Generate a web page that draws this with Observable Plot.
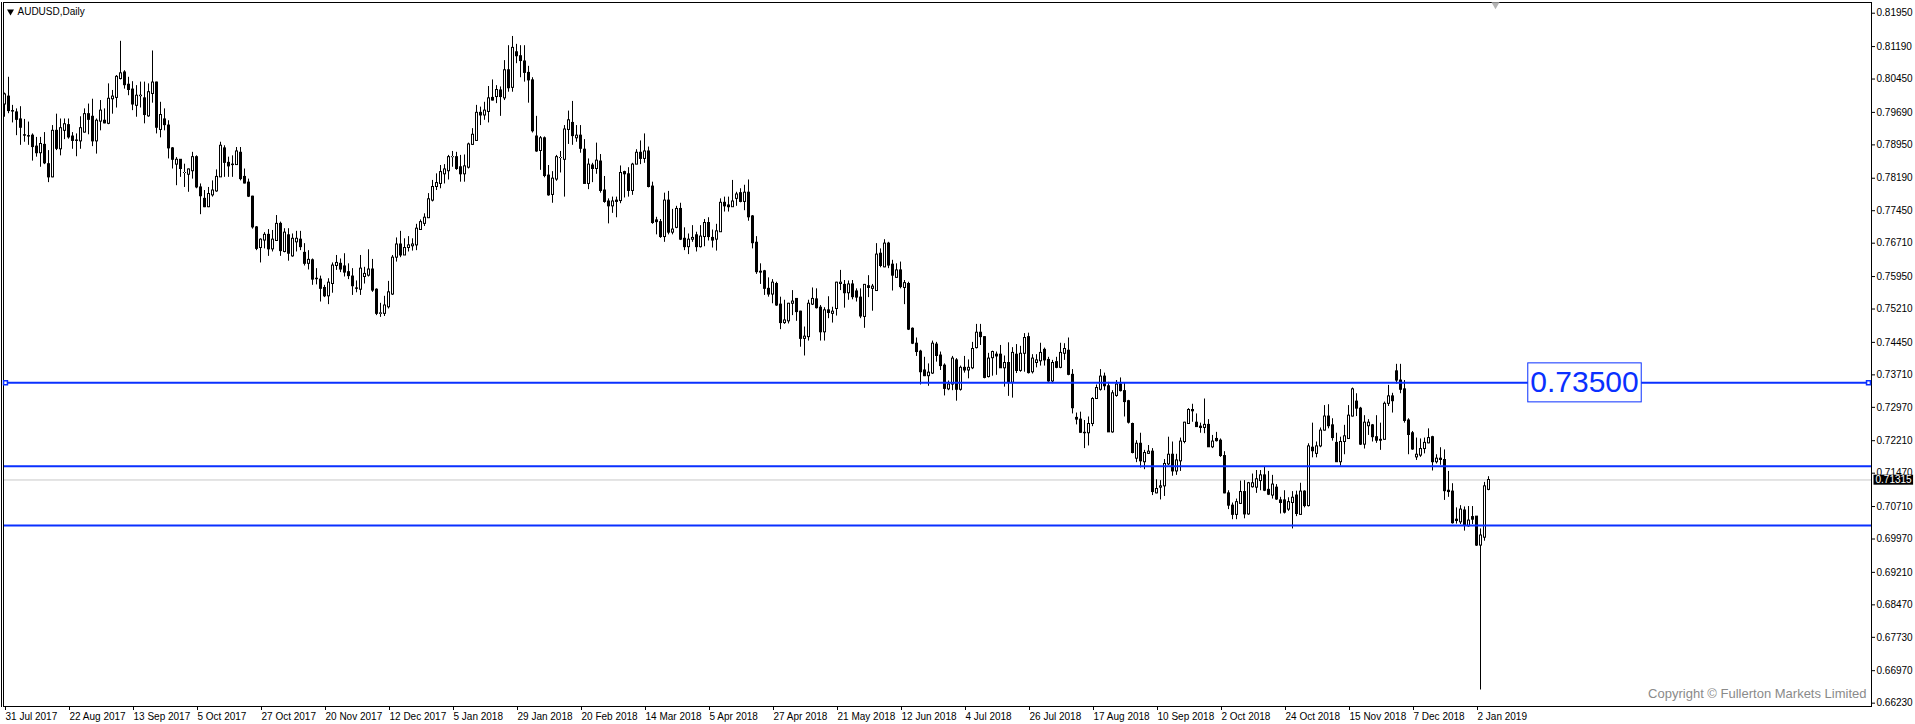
<!DOCTYPE html>
<html>
<head>
<meta charset="utf-8">
<script src="https://cdn.jsdelivr.net/npm/d3@7"></script>
<script src="https://cdn.jsdelivr.net/npm/@observablehq/plot@0.6"></script>
<style>
html,body{margin:0;padding:0;background:#fff;overflow:hidden}
#chart{position:relative;width:1915px;height:724px}
#chart svg{display:block}
#chart .edge{position:absolute;left:1px;top:2px;width:1px;height:705px;background:#000}
</style>
</head>
<body>
<div id="chart"><div class="edge"></div></div>
<script>
// ---------------- data ----------------
const symbolTitle = "AUDUSD,Daily";
const copyrightText = "Copyright \u00A9 Fullerton Markets Limited";

// daily bars, 31 Jul 2017 .. 7 Jan 2019 (bar index 0..371)
const opens = [
.7987,.8005,.7972,.7969,.7953,.7917,.7915,.7916,.7891,.7876,
.7895,.7851,.7821,.7927,.7885,.7927,.7940,.7914,.7905,.7903,
.7923,.7965,.7959,.7903,.7948,.7950,.7943,.7999,.8002,.8045,
.8060,.8032,.8021,.7984,.8006,.8001,.7960,.8011,.8037,.7929,
.7953,.7939,.7887,.7850,.7861,.7831,.7827,.7835,.7867,.7798,
.7772,.7753,.7780,.7789,.7821,.7887,.7854,.7850,.7849,.7877,
.7822,.7809,.7777,
.7707,.7660,.7677,.7690,.7657,.7676,.7715,
.7651,.7689,.7641,.7673,.7679,.7649,.7624,.7632,.7590,.7588,
.7569,.7550,.7578,.7619,.7624,.7618,.7605,.7595,.7568,.7565,
.7594,.7597,.7611,.7565,.7510,.7510,.7525,.7554,.7638,.7668,
.7643,.7660,.7664,.7666,.7701,.7715,.7728,.7768,.7799,.7806,
.7828,.7835,.7867,.7867,.7844,.7828,.7843,.7895,.7904,.7968,
.7962,.7970,.8002,.8004,.8019,.8001,.8065,.8025,
.8106,.8097,.8085,.8059,.8042,.7914,.7881,.7910,.7825,.7781,.7816,.7865,
.7861,.7929,.7945,.7910,.7916,.7884,.7806,.7848,.7840,.7857,
.7791,.7766,.7755,.7768,.7767,.7833,.7828,.7790,.7850,.7877,
.7863,.7880,.7800,.7723,.7719,.7685,.7768,.7695,.7706,.7749,
.7681,.7662,.7679,.7689,.7662,.7685,.7717,.7683,.7679,.7696,
.7763,.7757,.7753,.7772,.7785,.7765,.7786,.7732,.7672,.7606,
.7607,.7567,
.7554,.7578,.7531,.7489,.7493,.7533,.7544,.7515,
.7453,.7457,.7531,.7543,.7524,.7468,.7518,.7510,.7521,.7578,
.7576,.7557,.7577,.7561,.7547,.7503,.7573,.7567,.7562,.7647,
.7616,.7670,.7622,.7592,.7609,.7569,.7578,.7476,.7442,.7424,
.7381,.7368,.7374,.7440,.7415,.7392,.7338,.7349,.7404,.7337,
.7387,.7381,.7386,.7432,.7467,.7457,.7366,.7409,.7417,.7417,
.7386,.7398,.7353,.7417,.7380,.7419,
.7457,.7377,.7398,.7402,
.7428,.7405,.7356,.7400,.7387,.7419,.7426,.7371,.7273,.7269,
.7239,.7238,.7259,.7316,.7337,.7367,.7345,.7240,.7323,.7349,
.7334,.7311,.7259,.7180,.7214,.7172,.7191,.7196,.7101,.7114,
.7117,.7167,.7189,.7151,.7174,.7218,.7259,.7291,.7262,.7253,
.7250,.7257,.7206,.7225,.7221,.7186,.7101,.7073,.7052,.7077,
.7104,.7053,.7115,.7114,.7129,.7142,.7109,.7096,.7114,.7085,
.7085,.7064,.7079,.7096,.7052,.7105,.7072,.7205,.7191,.7208,
.7244,.7276,.7256,.7216,.7172,.7218,.7225,.7276,.7310,.7294,
.7212,.7254,.7256,.7229,.7223,.7223,.7305,.7322,.7379,.7358,
.7338,.7267,.7238,.7183,.7187,.7202,.7215,.7229,.7172,.7180,
.7177,.7107,.7105,.7041,.7035,.7062,.7026,.7047,.7048,.6982,
.7000,.7109
];
const highs = [
.8013,.8049,.7985,.7977,.7982,.7953,.7947,.7920,.7912,.7912,
.7923,.7882,.7939,.7965,.7954,.7954,.7954,.7923,.7920,.7959,
.7977,.7988,.7999,.7954,.7996,.7977,.8034,.8019,.8053,.8131,
.8064,.8049,.8039,.8030,.8038,.8038,.8034,.8109,.8038,.7992,
.7977,.7950,.7889,.7866,.7861,.7851,.7840,.7878,.7870,.7806,
.7791,.7798,.7813,.7838,.7901,.7893,.7867,.7870,.7889,.7889,
.7840,.7817,.7778,
.7709,.7681,.7695,.7702,.7700,.7734,.7719,
.7704,.7704,.7692,.7698,.7698,.7670,.7654,.7635,.7613,.7596,
.7575,.7590,.7626,.7643,.7635,.7647,.7624,.7613,.7585,.7643,
.7616,.7656,.7634,.7567,.7534,.7550,.7584,.7643,.7683,.7698,
.7681,.7686,.7681,.7714,.7724,.7738,.7784,.7814,.7829,.7848,
.7850,.7871,.7880,.7878,.7871,.7872,.7899,.7932,.7985,.7981,
.7992,.8028,.8043,.8030,.8027,.8087,.8121,.8142,
.8124,.8121,.8121,.8074,.8048,.7960,.7914,.7913,.7848,.7834,.7871,.7880,
.7939,.7972,.7994,.7939,.7939,.7907,.7863,.7853,.7899,.7873,
.7823,.7772,.7776,.7776,.7847,.7835,.7843,.7853,.7884,.7904,
.7920,.7890,.7810,.7730,.7725,.7785,.7789,.7748,.7755,.7762,
.7706,.7692,.7711,.7696,.7711,.7725,.7729,.7701,.7714,.7772,
.7776,.7776,.7814,.7787,.7795,.7803,.7815,.7734,.7686,.7624,
.7609,.7592,
.7588,.7582,.7548,.7541,.7534,.7563,.7544,.7516,
.7480,.7541,.7569,.7567,.7529,.7524,.7549,.7525,.7582,.7609,
.7586,.7585,.7586,.7567,.7567,.7577,.7597,.7577,.7670,.7658,
.7679,.7673,.7632,.7624,.7628,.7586,.7582,.7478,.7455,.7427,
.7411,.7396,.7448,.7445,.7423,.7396,.7357,.7413,.7408,.7391,
.7413,.7405,.7445,.7486,.7486,.7458,.7420,.7425,.7423,.7438,
.7414,.7444,.7433,.7440,.7436,.7465,
.7466,.7417,.7417,.7443,
.7432,.7411,.7404,.7411,.7443,.7442,.7455,.7383,.7284,.7286,
.7267,.7275,.7319,.7348,.7383,.7375,.7354,.7335,.7358,.7364,
.7352,.7313,.7261,.7221,.7238,.7199,.7210,.7203,.7132,.7130,
.7178,.7229,.7218,.7190,.7227,.7263,.7294,.7304,.7282,.7261,
.7316,.7269,.7233,.7240,.7225,.7196,.7107,.7079,.7088,.7129,
.7130,.7126,.7145,.7153,.7153,.7162,.7151,.7142,.7121,.7092,
.7107,.7091,.7105,.7106,.7124,.7107,.7214,.7261,.7218,.7250,
.7301,.7303,.7271,.7238,.7229,.7256,.7301,.7341,.7328,.7297,
.7278,.7269,.7258,.7278,.7261,.7309,.7347,.7329,.7395,.7395,
.7358,.7271,.7242,.7227,.7225,.7227,.7248,.7231,.7189,.7205,
.7200,.7151,.7123,.7068,.7073,.7070,.7071,.7071,.7048,.7020,
.7126,.7139
];
const lows = [
.7958,.7966,.7945,.7916,.7894,.7901,.7894,.7858,.7867,.7844,
.7850,.7809,.7820,.7882,.7870,.7907,.7908,.7885,.7868,.7885,
.7922,.7918,.7891,.7874,.7927,.7943,.7941,.7965,.7979,.8043,
.8022,.8007,.7973,.7958,.7979,.7943,.7958,.7990,.7920,.7911,
.7927,.7863,.7840,.7802,.7821,.7798,.7787,.7817,.7795,.7736,
.7752,.7752,.7776,.7787,.7821,.7821,.7821,.7821,.7848,.7813,
.7806,.7775,.7703,
.7654,.7626,.7658,.7641,.7651,.7676,.7641,
.7649,.7630,.7639,.7651,.7654,.7619,.7610,.7575,.7576,.7537,
.7547,.7531,.7557,.7609,.7604,.7594,.7588,.7552,.7558,.7552,
.7578,.7594,.7559,.7506,.7502,.7504,.7521,.7552,.7628,.7638,
.7643,.7651,.7653,.7654,.7700,.7709,.7727,.7765,.7791,.7795,
.7806,.7815,.7844,.7837,.7810,.7810,.7840,.7894,.7904,.7939,
.7951,.7945,.7995,.7989,.7960,.7996,.8015,.8015,
.8080,.8048,.8038,.7990,.7922,.7878,.7837,.7820,.7778,.7762,.7812,.7831,
.7776,.7896,.7894,.7901,.7876,.7806,.7793,.7809,.7828,.7785,
.7762,.7715,.7739,.7729,.7761,.7774,.7776,.7780,.7850,.7850,
.7853,.7797,.7714,.7690,.7682,.7673,.7690,.7690,.7704,.7677,
.7654,.7645,.7673,.7651,.7660,.7663,.7676,.7660,.7653,.7696,
.7742,.7742,.7753,.7755,.7763,.7745,.7721,.7658,.7600,.7577,
.7552,.7548,
.7533,.7527,.7474,.7486,.7487,.7506,.7493,.7434,
.7414,.7448,.7529,.7521,.7448,.7448,.7499,.7489,.7505,.7563,
.7523,.7541,.7542,.7537,.7499,.7477,.7547,.7516,.7562,.7615,
.7615,.7613,.7562,.7592,.7567,.7531,.7472,.7440,.7413,.7348,
.7367,.7345,.7372,.7400,.7381,.7323,.7335,.7335,.7311,.7334,
.7375,.7362,.7383,.7430,.7438,.7362,.7364,.7368,.7370,.7386,
.7343,.7322,.7318,.7374,.7377,.7377,
.7373,.7373,.7387,.7391,
.7391,.7354,.7351,.7385,.7385,.7404,.7369,.7282,.7257,.7238,
.7203,.7209,.7253,.7315,.7334,.7335,.7240,.7238,.7320,.7332,
.7275,.7259,.7191,.7171,.7159,.7155,.7190,.7096,.7100,.7086,
.7094,.7164,.7140,.7142,.7151,.7214,.7259,.7263,.7252,.7238,
.7237,.7206,.7203,.7218,.7183,.7100,.7064,.7041,.7041,.7076,
.7043,.7051,.7113,.7101,.7107,.7105,.7096,.7088,.7085,.7054,
.7054,.7060,.7020,.7048,.7052,.7068,.7070,.7182,.7182,.7205,
.7243,.7248,.7220,.7172,.7163,.7189,.7225,.7275,.7276,.7210,
.7202,.7233,.7218,.7215,.7199,.7223,.7299,.7284,.7350,.7328,
.7261,.7189,.7199,.7176,.7183,.7191,.7214,.7152,.7168,.7165,
.7085,.7092,.7031,.7031,.7030,.7015,.7024,.7030,.6980,.6653,
.6992,.7107
];
const closes = [
.8010,.7972,.7971,.7952,.7934,.7916,.7914,.7890,.7876,.7897,
.7853,.7821,.7927,.7886,.7933,.7942,.7912,.7904,.7904,.7933,
.7965,.7952,.7903,.7950,.7973,.7944,.8000,.8005,.8050,.8058,
.8031,.8020,.7987,.8007,.8007,.7963,.8015,.8037,.7934,.7963,
.7940,.7887,.7861,.7861,.7840,.7831,.7839,.7867,.7798,.7778,
.7753,.7783,.7791,.7822,.7893,.7854,.7846,.7849,.7880,.7817,
.7807,.7777,.7707,
.7658,.7679,.7690,.7657,.7679,.7715,.7653,
.7695,.7647,.7681,.7681,.7662,.7624,.7633,.7588,.7589,.7567,
.7550,.7581,.7620,.7626,.7611,.7604,.7596,.7573,.7567,.7613,
.7601,.7611,.7563,.7510,.7511,.7529,.7559,.7638,.7668,.7643,
.7660,.7666,.7668,.7704,.7719,.7729,.7771,.7799,.7808,.7833,
.7839,.7867,.7867,.7840,.7828,.7846,.7896,.7918,.7968,.7962,
.7973,.8001,.7996,.8020,.8004,.8065,.8024,.8116,
.8097,.8086,.8059,.8042,.7926,.7880,.7910,.7824,.7780,.7818,.7867,.7865,
.7930,.7951,.7915,.7916,.7886,.7806,.7850,.7840,.7859,.7790,
.7765,.7755,.7766,.7765,.7831,.7828,.7790,.7850,.7877,.7863,
.7880,.7799,.7717,.7719,.7685,.7768,.7695,.7702,.7749,.7679,
.7662,.7679,.7683,.7662,.7686,.7717,.7685,.7677,.7698,.7763,
.7755,.7753,.7766,.7782,.7765,.7786,.7730,.7671,.7605,.7604,
.7567,.7554,
.7581,.7529,.7489,.7495,.7533,.7538,.7514,.7453,
.7458,.7533,.7544,.7523,.7468,.7518,.7512,.7515,.7581,.7581,
.7557,.7577,.7548,.7547,.7504,.7576,.7569,.7572,.7645,.7619,
.7670,.7620,.7597,.7609,.7571,.7580,.7474,.7442,.7423,.7377,
.7368,.7376,.7442,.7414,.7391,.7339,.7349,.7408,.7337,.7387,
.7381,.7387,.7430,.7467,.7457,.7364,.7408,.7423,.7413,.7386,
.7398,.7353,.7421,.7380,.7419,.7455,
.7375,.7408,.7404,.7421,
.7404,.7356,.7398,.7387,.7421,.7430,.7371,.7295,.7269,.7239,
.7238,.7259,.7316,.7341,.7367,.7345,.7240,.7329,.7349,.7334,
.7309,.7262,.7193,.7214,.7174,.7193,.7196,.7104,.7111,.7117,
.7168,.7189,.7151,.7176,.7219,.7262,.7291,.7288,.7252,.7250,
.7257,.7206,.7219,.7220,.7186,.7101,.7073,.7052,.7081,.7104,
.7053,.7124,.7124,.7133,.7142,.7107,.7098,.7121,.7087,.7079,
.7057,.7081,.7091,.7054,.7105,.7072,.7208,.7197,.7208,.7244,
.7276,.7254,.7227,.7172,.7218,.7231,.7278,.7338,.7294,.7212,
.7262,.7262,.7229,.7221,.7221,.7305,.7322,.7311,.7358,.7337,
.7266,.7234,.7201,.7189,.7202,.7216,.7227,.7172,.7180,.7177,
.7106,.7104,.7033,.7038,.7064,.7028,.7039,.7041,.6982,.7005,
.7117,.71315
];

// time axis: bar index of each date label, and its text
const dateTicks = [0,16,32,48,64,80,96,112,128,144,160,176,192,208,224,240,256,272,288,304,320,336,352,368];
const dateLabels = ["31 Jul 2017","22 Aug 2017","13 Sep 2017","5 Oct 2017","27 Oct 2017","20 Nov 2017",
  "12 Dec 2017","5 Jan 2018","29 Jan 2018","20 Feb 2018","14 Mar 2018","5 Apr 2018","27 Apr 2018",
  "21 May 2018","12 Jun 2018","4 Jul 2018","26 Jul 2018","17 Aug 2018","10 Sep 2018","2 Oct 2018",
  "24 Oct 2018","15 Nov 2018","7 Dec 2018","2 Jan 2019"];

// price axis labels
const priceTicks = [0.81950,0.81190,0.80450,0.79690,0.78950,0.78190,0.77450,0.76710,0.75950,0.75210,
  0.74450,0.73710,0.72970,0.72210,0.71470,0.70710,0.69970,0.69210,0.68470,0.67730,0.66970,0.66230];

// horizontal lines drawn on the chart
const levels = [0.7353, 0.7163, 0.7028];
const levelLabelText = "0.73500";
const levelLabelBar = 395;          // bar where the 0.73500 text label is centred
const bid = 0.71315;                // last price line / marker
const shiftMarkerBar = 372.75;      // chart-shift triangle on the top border

// ---------------- chart ----------------
const BLUE = "#0a30ff";
const FONT = "'Liberation Sans', Arial, sans-serif";
const n = Math.min(opens.length, highs.length, lows.length, closes.length);
const bars = d3.range(n).map(i => ({
  i, open: opens[i], high: highs[i], low: lows[i], close: closes[i],
  top: Math.max(opens[i], closes[i]), bot: Math.min(opens[i], closes[i]),
  up: closes[i] >= opens[i]
}));

const chart = Plot.plot({
  width: 1915,
  height: 724,
  marginTop: 2,
  marginRight: 44,
  marginBottom: 18,
  marginLeft: 3,
  style: {background: "#ffffff", fontFamily: FONT, fontSize: "10px", color: "#000", overflow: "visible"},
  x: {type: "linear", domain: [-0.25, 466.75], axis: null, label: null},
  y: {type: "linear", domain: [0.66154, 0.82194], axis: null, label: null},
  marks: [
    Plot.ruleY([bid], {y: d => d, stroke: "#c8c8c8", strokeWidth: 1}),
    // wicks
    Plot.ruleX(bars, {x: "i", y1: "low", y2: "high", stroke: "#000", strokeWidth: 1}),
    // bodies
    Plot.ruleX(bars, {x: "i", y1: "top", y2: "bot", stroke: "#000", strokeWidth: 3, insetTop: -0.5, insetBottom: -0.5}),
    Plot.ruleX(bars.filter(d => d.up), {x: "i", y1: "top", y2: "bot", stroke: "#fff", strokeWidth: 1, insetTop: 0.5, insetBottom: 0.5}),
    // horizontal levels
    Plot.ruleY(levels, {y: d => d, stroke: BLUE, strokeWidth: 2}),
    // axes
    Plot.axisY(priceTicks, {anchor: "right", label: null, tickSize: 3, tickPadding: 2, tickFormat: d => d.toFixed(5), fontSize: 10, fill: "#000"}),
    Plot.axisX(dateTicks, {anchor: "bottom", label: null, tickSize: 4, tickPadding: 2, tickFormat: d => dateLabels[dateTicks.indexOf(d)], textAnchor: "start", dx: 1, fontSize: 10, fill: "#000"}),
    Plot.frame({stroke: "#000"}),
    // handles of the selected 0.735 line
    Plot.dot([levels[0]], {y: d => d, frameAnchor: "left", dx: 2, symbol: "square", r: 2.2, stroke: BLUE, strokeWidth: 1.5, fill: "#fff"}),
    Plot.dot([levels[0]], {y: d => d, frameAnchor: "right", dx: -3, symbol: "square", r: 2.2, stroke: BLUE, strokeWidth: 1.5, fill: "#fff"}),
    // level text label
    Plot.text([levels[0]], {x: () => levelLabelBar, y: d => d, text: () => levelLabelText, fontSize: 30, fill: BLUE, lineAnchor: "middle", fontFamily: FONT}),
    // bid marker in the price scale
    Plot.text([bid], {y: d => d, frameAnchor: "right", dx: 4, textAnchor: "start", text: d => d.toFixed(5), fill: "#fff", fontSize: 10}),
    // chart shift marker
    Plot.dot([shiftMarkerBar], {x: d => d, frameAnchor: "top", dy: 2, symbol: "triangle", rotate: 180, r: 3, fill: "#b4b4b4", stroke: "none"}),
    // title and copyright
    Plot.dot([symbolTitle], {frameAnchor: "top-left", dx: 7, dy: 9, symbol: "triangle", rotate: 180, r: 2.6, fill: "#000", stroke: "none"}),
    Plot.text([symbolTitle], {frameAnchor: "top-left", dx: 14, dy: 12.5, textAnchor: "start", lineAnchor: "bottom", text: d => d, fontSize: 10, fill: "#000"}),
    Plot.text([copyrightText], {frameAnchor: "bottom-right", dx: -5, dy: -9, textAnchor: "end", lineAnchor: "bottom", text: d => d, fontSize: 13, fill: "#8a8a8a"})
  ]
});

document.getElementById("chart").appendChild(chart);

// boxes behind the two value labels
const svg = d3.select(chart);
svg.selectAll("text").each(function() {
  const t = this.textContent;
  if (t !== levelLabelText && t !== bid.toFixed(5)) return;
  const b = this.getBBox();
  const r = document.createElementNS("http://www.w3.org/2000/svg", "rect");
  const cy = b.y + b.height / 2;
  if (t === levelLabelText) {
    r.setAttribute("x", b.x - 2.5);
    r.setAttribute("width", b.width + 5);
    r.setAttribute("y", cy - 19);
    r.setAttribute("height", 39);
    r.setAttribute("fill", "#fff");
    r.setAttribute("stroke", BLUE);
    r.setAttribute("stroke-width", 1);
  } else {
    r.setAttribute("x", b.x - 2);
    r.setAttribute("width", b.width + 3);
    r.setAttribute("y", cy - 5);
    r.setAttribute("height", 10);
    r.setAttribute("fill", "#000");
  }
  const tr = this.getAttribute("transform");
  if (tr) r.setAttribute("transform", tr);
  this.parentNode.insertBefore(r, this);
});

if (n !== 372 || opens.length !== highs.length || lows.length !== closes.length || opens.length !== lows.length) {
  const w = document.createElement("div");
  w.style.cssText = "position:absolute;left:300px;top:300px;color:red;font:20px sans-serif";
  w.textContent = `length mismatch: ${opens.length} ${highs.length} ${lows.length} ${closes.length}`;
  document.body.appendChild(w);
}
</script>
</body>
</html>
